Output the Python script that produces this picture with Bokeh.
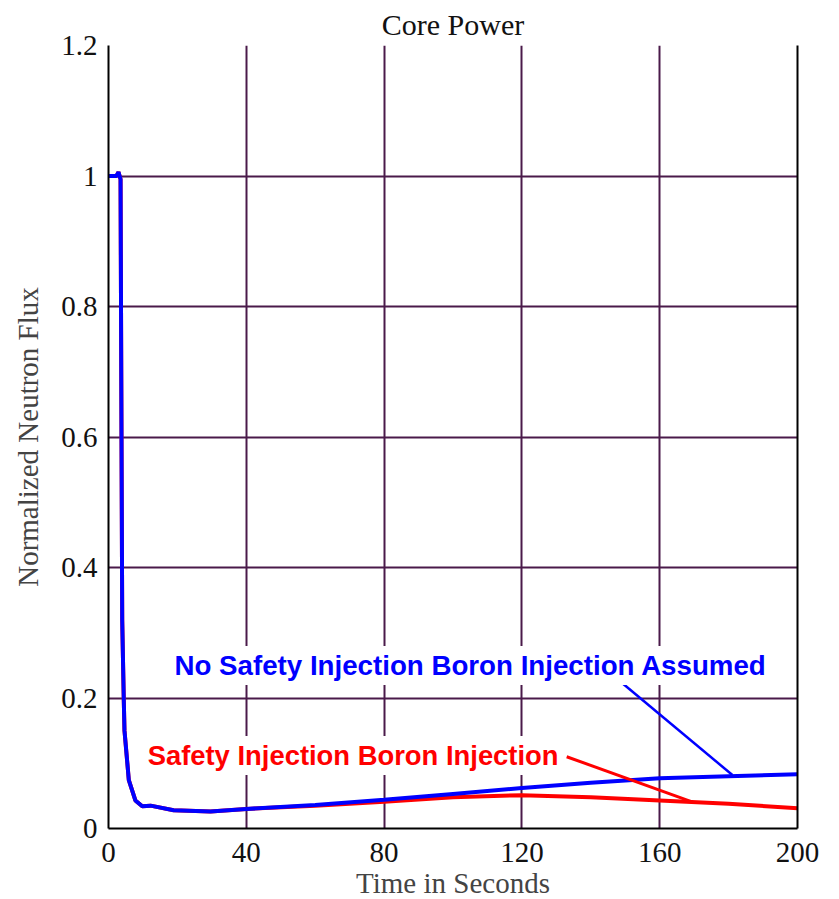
from bokeh.plotting import figure
from bokeh.models import FixedTicker, LinearAxis, Range1d
from bokeh.core.properties import value
from bokeh.embed import file_html
from bokeh.resources import INLINE

# ---- data ----
time_blue = [0, 2.3, 2.9, 3.5, 3.7, 3.98, 4.44, 4.64, 5.9, 7.8, 9.8, 12.2, 18.9, 29.6,
             40, 60, 80, 100, 120, 140, 160, 180, 200]
flux_no_si = [1.0, 1.0, 1.006, 0.995, 0.7, 0.32, 0.196, 0.15, 0.074, 0.043, 0.034, 0.035,
              0.028, 0.026, 0.030, 0.036, 0.044, 0.053, 0.062, 0.070, 0.077, 0.080, 0.083]

time_red = [0, 2.3, 2.9, 3.5, 3.7, 3.98, 4.44, 4.64, 5.9, 7.8, 9.8, 12.2, 18.9, 29.6,
            40, 60, 80, 100, 120, 140, 160, 180, 200]
flux_si = [1.0, 1.0, 1.006, 0.995, 0.7, 0.32, 0.196, 0.15, 0.074, 0.043, 0.034, 0.035,
           0.028, 0.026, 0.030, 0.035, 0.041, 0.048, 0.051, 0.048, 0.043, 0.038, 0.031]

x_ticks = [0, 40, 80, 120, 160, 200]
y_ticks = [0, 0.2, 0.4, 0.6, 0.8, 1.0, 1.2]
y_tick_labels = ["0", "0.2", "0.4", "0.6", "0.8", "1", "1.2"]

title_text = "Core Power"
label_blue = "No Safety Injection Boron Injection Assumed"
label_red = "Safety Injection Boron Injection"
label_blue_pos = (18.0, 0.250)
label_red_pos = (10.2, 0.112)
leader_blue_x = [147.7, 181.1]
leader_blue_y = [0.229, 0.082]
leader_red_x = [133.0, 169.8]
leader_red_y = [0.110, 0.040]

GRID = "#4a1a4a"
SERIF = "Liberation Serif"

p = figure(frame_width=689, frame_height=783,
           x_range=Range1d(0, 200), y_range=Range1d(0, 1.2),
           output_backend="svg", toolbar_location=None,
           min_border_left=108, min_border_top=45, min_border_right=30, min_border_bottom=40)
p.outline_line_color = None
p.background_fill_color = "white"
p.border_fill_color = "white"

p.title.text = title_text
p.title.align = "center"
p.title.text_font = SERIF
p.title.text_font_size = "30px"
p.title.text_font_style = "normal"
p.title.text_color = "#111111"
p.title.standoff = 10

for ax in (p.xaxis[0], p.yaxis[0]):
    ax.axis_line_color = "black"
    ax.axis_line_width = 2
    ax.major_tick_in = 0
    ax.major_tick_out = 0
    ax.minor_tick_line_color = None
    ax.major_label_text_font = SERIF
    ax.major_label_text_font_size = "29px"
    ax.major_label_text_color = "#111111"
    ax.axis_label_text_font = SERIF
    ax.axis_label_text_font_size = "29px"
    ax.axis_label_text_font_style = "normal"
    ax.axis_label_text_color = "#444444"

p.xaxis.ticker = FixedTicker(ticks=x_ticks)
p.yaxis.ticker = FixedTicker(ticks=y_ticks)
p.yaxis.major_label_overrides = {t: l for t, l in zip(y_ticks, y_tick_labels)}
p.xaxis.axis_label = "Time in Seconds"
p.yaxis.axis_label = "Normalized Neutron Flux"
p.xaxis.major_label_standoff = 14
p.yaxis.major_label_standoff = 11
p.xaxis.axis_label_standoff = 2
p.yaxis.axis_label_standoff = 14

right = LinearAxis(ticker=FixedTicker(ticks=[]), major_label_text_font_size="0px",
                   axis_line_color="black", axis_line_width=2,
                   major_tick_line_color=None, minor_tick_line_color=None)
p.add_layout(right, "right")

p.xgrid.ticker = FixedTicker(ticks=x_ticks)
p.ygrid.ticker = FixedTicker(ticks=y_ticks)
p.grid.grid_line_color = GRID
p.grid.grid_line_width = 2

p.line(time_red, flux_si, line_color="red", line_width=4)
p.line(time_blue, flux_no_si, line_color="blue", line_width=4)

p.line(leader_blue_x, leader_blue_y, line_color="blue", line_width=2.5)
p.line(leader_red_x, leader_red_y, line_color="red", line_width=3)

p.text(x=[label_blue_pos[0]], y=[label_blue_pos[1]], text=[label_blue],
       text_font=value("Liberation Sans"), text_font_style="bold", text_font_size="27.7px",
       text_color="blue", text_baseline="alphabetic", text_align="left",
       background_fill_color="white", padding=4)
p.text(x=[label_red_pos[0]], y=[label_red_pos[1]], text=[label_red],
       text_font=value("Liberation Sans"), text_font_style="bold", text_font_size="27.4px",
       text_color="red", text_baseline="alphabetic", text_align="left",
       background_fill_color="white", padding=4)

open("out.html", "w").write(file_html(p, INLINE))
